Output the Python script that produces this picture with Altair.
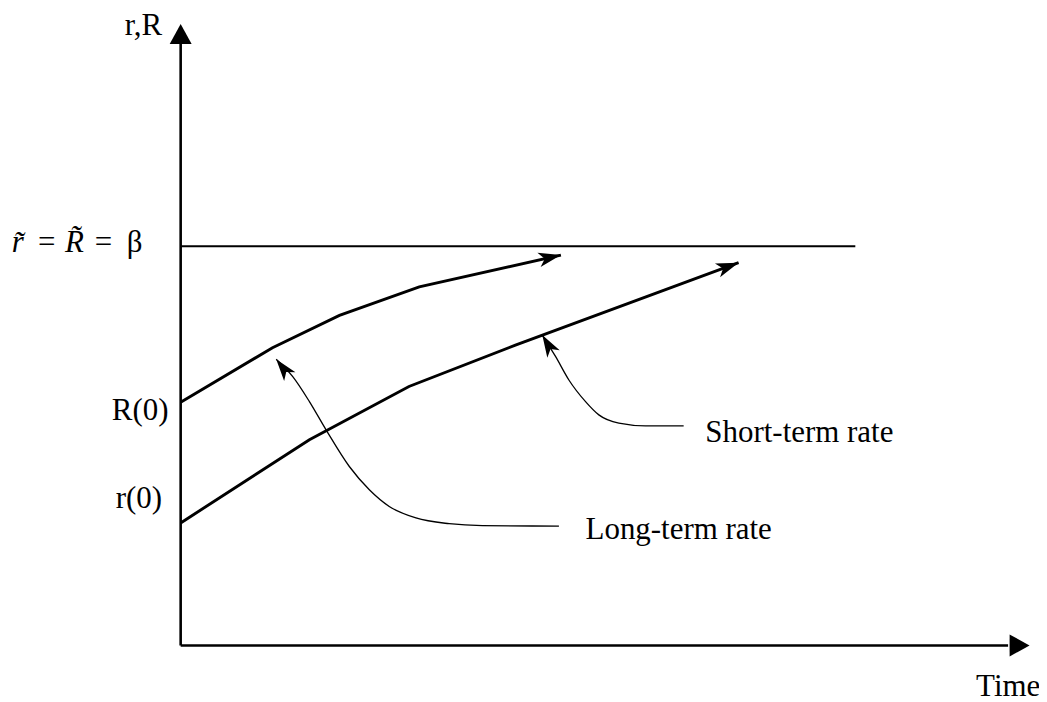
import math
import altair as alt
import pandas as pd

# ---- data (diagram units: time 0-100, rate 0-100) ----
long_t = [0.0, 10.7, 18.5, 27.8, 44.3]
long_r = [38.3, 46.9, 52.0, 56.5, 61.5]
short_t = [0.0, 15.0, 26.6, 39.0, 65.0]
short_r = [19.3, 32.4, 40.8, 47.3, 60.3]
beta_level = 62.9
beta_end = 78.6

# annotation callout curves (tip first)
ann_long_t = [11.13, 13.06, 15.0, 16.94, 19.65, 21.98, 24.30, 27.41, 31.28, 35.15, 44.07]
ann_long_r = [45.08, 42.34, 38.41, 33.96, 28.19, 24.53, 21.90, 20.08, 19.18, 18.87, 18.80]
ann_short_t = [42.13, 43.69, 45.23, 47.17, 48.72, 51.05, 54.15, 58.6]
ann_short_r = [48.90, 45.49, 41.82, 38.41, 36.32, 35.02, 34.59, 34.59]

# axes
y_axis_top = 94.8
y_axis_tip = 97.9
x_axis_end = 96.4
x_axis_tip = 98.9

W, H = 860, 636
PX_X, PX_Y = W / 100.0, H / 100.0

FONT = "Liberation Serif"
FS = 31

xs = alt.Scale(domain=[0, 100], nice=False, zero=False)
ys = alt.Scale(domain=[0, 100], nice=False, zero=False)


def heading(t_from, r_from, t_to, r_to):
    dx = (t_to - t_from) * PX_X
    dy_up = (r_to - r_from) * PX_Y
    return math.degrees(math.atan2(dx, dy_up)) % 360


curves = pd.DataFrame(
    [{"s": "long", "i": i, "t": t, "r": r} for i, (t, r) in enumerate(zip(long_t, long_r))]
    + [{"s": "short", "i": i, "t": t, "r": r} for i, (t, r) in enumerate(zip(short_t, short_r))]
)
anns = pd.DataFrame(
    [{"s": "al", "i": i, "t": t, "r": r} for i, (t, r) in enumerate(zip(ann_long_t, ann_long_r))]
    + [{"s": "as", "i": i, "t": t, "r": r} for i, (t, r) in enumerate(zip(ann_short_t, ann_short_r))]
)
rules = pd.DataFrame([
    {"t": 0, "t2": 0, "r": 0, "r2": y_axis_top, "w": 2.6},
    {"t": 0, "t2": x_axis_end, "r": 0, "r2": 0, "w": 2.6},
    {"t": 0, "t2": beta_end, "r": beta_level, "r2": beta_level, "w": 2.0},
])

heads = pd.DataFrame([
    {"t": long_t[-1], "r": long_r[-1], "a": heading(long_t[-2], long_r[-2], long_t[-1], long_r[-1]), "sz": 560},
    {"t": short_t[-1], "r": short_r[-1], "a": heading(short_t[-2], short_r[-2], short_t[-1], short_r[-1]), "sz": 560},
    {"t": ann_long_t[0], "r": ann_long_r[0], "a": heading(ann_long_t[2], ann_long_r[2], ann_long_t[0], ann_long_r[0]), "sz": 540},
    {"t": ann_short_t[0], "r": ann_short_r[0], "a": heading(ann_short_t[2], ann_short_r[2], ann_short_t[0], ann_short_r[0]), "sz": 540},
])
axis_heads = pd.DataFrame([
    {"t": 0, "r": y_axis_tip, "a": 0},
    {"t": x_axis_tip, "r": 0, "a": 90},
])

labels_upright = pd.DataFrame([
    {"t": -6.51, "r": 96.2, "txt": "r,R"},
    {"t": -16.63, "r": 62.0, "txt": "="},
    {"t": -10.0, "r": 62.0, "txt": "="},
    {"t": -6.28, "r": 62.0, "txt": "β"},
    {"t": -8.02, "r": 35.5, "txt": "R(0)"},
    {"t": -7.56, "r": 21.7, "txt": "r(0)"},
    {"t": 61.13, "r": 32.1, "txt": "Short-term rate"},
    {"t": 47.17, "r": 16.7, "txt": "Long-term rate"},
    {"t": 92.67, "r": -8.0, "txt": "Time"},
])
labels_italic = pd.DataFrame([
    {"t": -19.69, "r": 62.0, "txt": "r\u0303"},
    {"t": -13.49, "r": 62.0, "txt": "R\u0303"},
])

X = alt.X("t:Q", scale=xs, axis=None)
Y = alt.Y("r:Q", scale=ys, axis=None)

rule_layer = alt.Chart(rules).mark_rule(color="black", strokeCap="butt").encode(
    x=X, x2="t2:Q", y=Y, y2="r2:Q", strokeWidth=alt.StrokeWidth("w:Q", scale=None)
)
curve_layer = alt.Chart(curves).mark_line(color="black", strokeWidth=2.9).encode(
    x=X, y=Y, detail="s:N", order="i:Q"
)
ann_layer = alt.Chart(anns).mark_line(color="black", strokeWidth=1.3, interpolate="monotone").encode(
    x=X, y=Y, detail="s:N", order="i:Q"
)
stealth = "M0,0 L0.62,1.9 L0,1.4 L-0.62,1.9 Z"
head_layer = alt.Chart(heads).mark_point(
    shape=stealth, filled=True, color="black", opacity=1, strokeWidth=0
).encode(
    x=X, y=Y, angle=alt.Angle("a:Q", scale=None), size=alt.Size("sz:Q", scale=None)
)
tri = "M0,0 L0.55,1 L-0.55,1 Z"
axis_head_layer = alt.Chart(axis_heads).mark_point(
    shape=tri, filled=True, color="black", opacity=1, strokeWidth=0, size=1600
).encode(x=X, y=Y, angle=alt.Angle("a:Q", scale=None))

text_up = alt.Chart(labels_upright).mark_text(
    font=FONT, fontSize=FS, align="left", baseline="alphabetic", color="black"
).encode(x=X, y=Y, text="txt:N")
text_it = alt.Chart(labels_italic).mark_text(
    font=FONT, fontSize=FS, fontStyle="italic", align="left", baseline="alphabetic", color="black"
).encode(x=X, y=Y, text="txt:N")

chart = alt.layer(
    rule_layer, curve_layer, ann_layer, head_layer, axis_head_layer, text_up, text_it
).properties(
    width=W, height=H,
    background="white",
    autosize=alt.AutoSizeParams(type="none"),
    padding={"left": 173, "top": 2, "right": 0, "bottom": 56},
).configure_view(stroke=None)

chart.save("out.html", embed_options={"renderer": "svg", "actions": False})
